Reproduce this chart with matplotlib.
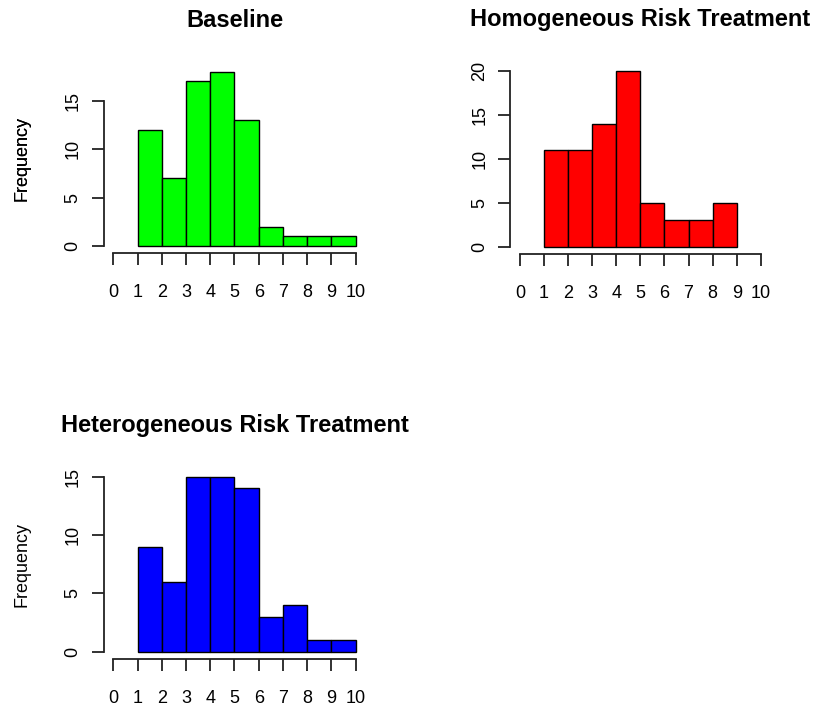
import matplotlib
matplotlib.use("Agg")
import matplotlib.pyplot as plt
import numpy as np

plt.rcParams['font.family'] = ['Liberation Sans', 'DejaVu Sans']

bin_edges = [1, 2, 3, 4, 5, 6, 7, 8, 9, 10]
baseline_counts = [12, 7, 17, 18, 13, 2, 1, 1, 1]
homog_counts = [11, 11, 14, 20, 5, 3, 3, 5]
heterog_counts = [9, 6, 15, 15, 14, 3, 4, 1, 1]

titles = ["Baseline", "Homogeneous Risk Treatment", "Heterogeneous Risk Treatment"]
colors = ["#00ff00", "#ff0000", "#0000ff"]
yticks_list = [[0, 5, 10, 15], [0, 5, 10, 15, 20], [0, 5, 10, 15]]
ymax_list = [18, 20, 15]
xticks = [0, 1, 2, 3, 4, 5, 6, 7, 8, 9, 10]

W, H = 816, 710
fig = plt.figure(figsize=(W / 100, H / 100), dpi=100)

# (left, top, right, bottom) in pixels
boxes = [(103.6, 64.6, 365.4, 253.0),
         (510.4, 64.0, 770.4, 253.7),
         (103.6, 469.7, 365.4, 658.7)]

series = [baseline_counts, homog_counts, heterog_counts]

for i in range(3):
    l, t, r, b = boxes[i]
    ax = fig.add_axes([l / W, 1 - b / H, (r - l) / W, (b - t) / H])
    counts = series[i]
    edges = bin_edges[:len(counts) + 1]
    lefts = edges[:-1]
    widths = np.diff(edges)
    ax.bar(lefts, counts, width=widths, align='edge', color=colors[i],
           edgecolor='black', linewidth=1.0)
    ymax = ymax_list[i]
    ax.set_xlim(-0.4, 10.4)
    ax.set_ylim(-0.04 * ymax, 1.04 * ymax)
    for s in ['top', 'right']:
        ax.spines[s].set_visible(False)
    ax.spines['left'].set_bounds(yticks_list[i][0], yticks_list[i][-1])
    ax.spines['bottom'].set_bounds(0, 10)
    for s in ['left', 'bottom']:
        ax.spines[s].set_linewidth(1.3)
        ax.spines[s].set_color('#222222')
    ax.set_xticks(xticks)
    ax.set_xticklabels([str(v) for v in xticks])
    ax.set_yticks(yticks_list[i])
    ax.set_yticklabels([str(v) for v in yticks_list[i]])
    ax.tick_params(axis='both', direction='out', length=8.5, width=1.3,
                   color='#222222', labelsize=13)
    ax.tick_params(axis='x', pad=14)
    ax.tick_params(axis='y', pad=7.5, labelrotation=90)
    for lab in ax.get_yticklabels():
        lab.set_va('center')
    ax.set_ylabel("Frequency", fontsize=13)
    ax.yaxis.set_label_coords((31 - l) / (r - l), 0.5)
    ax.set_title(titles[i], fontsize=17, fontweight='bold', pad=27)

fig.savefig("out.png", dpi=100)
